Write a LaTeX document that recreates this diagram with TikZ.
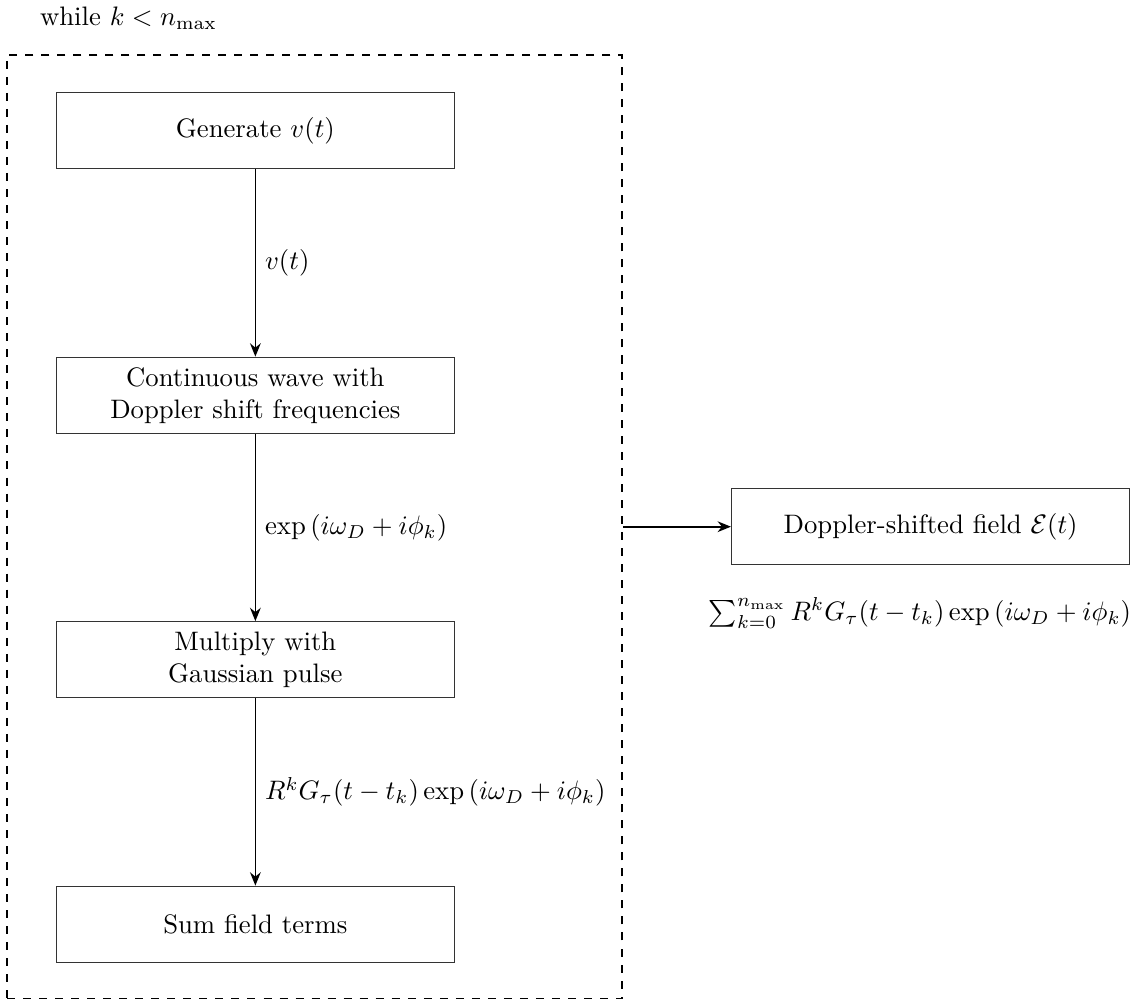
\documentclass[tikz,border=0pt]{standalone}
\usepackage{amsmath}
\usetikzlibrary{positioning,fit,calc,arrows.meta}
\tikzset{
	block/.style={
		rectangle,
		draw=black!80,
		align=center,
		minimum width=5.24cm,
		minimum height=1cm,
	},
	flow/.style={
		-{Stealth[length=5pt,width=4pt]},
		semithick,
	},
	loopbox/.style={
		draw,
		dashed,
		semithick,
		inner sep=0pt,
	},
}

\begin{document}
\begin{tikzpicture}[node distance=3.48cm, on grid]
    \useasboundingbox (0,0) rectangle (14.96,-13.2);
    \node[block] (gen) at (3.36,-1.72) {Generate $v(t)$};
    \node[block, below=of gen] (cw) {Continuous wave with\\ Doppler shift frequencies};
    \node[block, below=of cw] (mult) {Multiply with\\ Gaussian pulse};
    \node[block, below=of mult] (sumt) {Sum field terms};

    \draw[flow] (gen) -- node[right] {$v(t)$} (cw);
    \draw[flow] (cw) -- node[right] {$\exp\left(i\omega_D + i\phi_k\right)$} (mult);
    \draw[flow] (mult) -- node[right] {$R^k G_\tau(t - t_k)\exp\left(i\omega_D + i\phi_k\right)$} (sumt);

    %% dashed loop around the steps
    \coordinate (nw) at ($(gen.north west)+(-0.64,0.49)$);
    \coordinate (se) at ($(sumt.south east)+(2.2,-0.47)$);
    \node[loopbox, fit=(nw)(se)] (loop) {};
    \node[anchor=base west] (cond) at ($(loop.north west)+(0.32,0.38)$) {while $k < n_{\max}$};

    \node[block, on grid=false, right=1.42cm of loop.east] (field) {Doppler-shifted field $\mathcal{E}(t)$};
    \node[on grid=false, below=0.3cm of field, xshift=-0.14cm] (total) {$\sum_{k=0}^{n_{\max}} R^k G_\tau(t - t_k)\exp\left(i\omega_D + i\phi_k\right)$};

    \draw[flow] (loop.east) -- (field);
\end{tikzpicture}
\end{document}
